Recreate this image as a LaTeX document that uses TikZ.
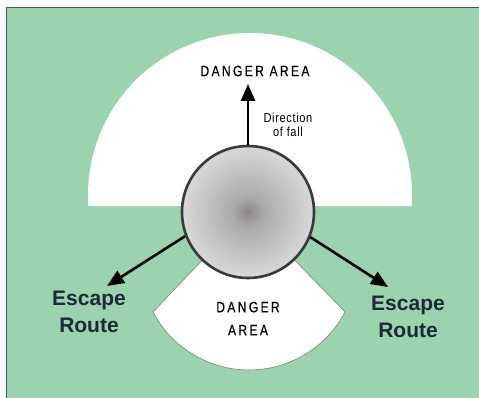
\documentclass[tikz,border=0pt]{standalone}
\usepackage{fontspec}
\setmainfont{Liberation Sans}
\newfontfamily\areafont[LetterSpace=16,FakeStretch=0.8,FakeBold=0.6]{Liberation Sans}
\newfontfamily\notefont[LetterSpace=5,FakeStretch=0.85]{Liberation Sans}
\usepackage{xcolor}
\definecolor{FGgreen}{HTML}{9BD3AE}
\definecolor{FGline}{HTML}{4A5A50}
\definecolor{FGink}{HTML}{1B2A36}
\definecolor{FGedge}{HTML}{3A3A3A}
\definecolor{FGcore}{HTML}{8F8485}
\definecolor{FGmid}{HTML}{ABABAB}
\definecolor{FGrim}{HTML}{EBEBEB}
\usetikzlibrary{arrows.meta}
\pgfdeclareradialshading{trunk}{\pgfpoint{0bp}{0bp}}{color(0bp)=(FGcore); color(6bp)=(FGmid); color(22bp)=(FGmid!40!FGrim); color(35bp)=(FGrim); color(50bp)=(FGrim)}

\begin{document}
\begin{tikzpicture}[x=1pt,y=1pt,
  area/.style={fill=white},
  label/.style={font=\areafont\fontsize{15}{23}\selectfont,align=center,text=black},
  note/.style={font=\notefont\fontsize{13}{14}\selectfont,align=center},
  escape/.style={font=\bfseries\fontsize{21}{27}\selectfont,text=FGink,align=center},
  route/.style={-{Triangle[length=17pt,width=14pt]},line width=2.6pt,draw=black}]
\useasboundingbox (0,0) rectangle (479,398);
\fill[FGgreen] (6.5,0) rectangle (479,390.5);
\draw[FGline,line width=1.2pt] (6.5,0) -- (6.5,390.5) -- (479,390.5);
% danger areas
\fill[area] (250,203) ++(-3.9:162pt) arc[start angle=-3.9,end angle=183.9,radius=162pt] -- cycle;
\filldraw[area,draw=gray,line width=.6pt] (248,186) -- (153,86) arc[start angle=207.75,end angle=332.25,radius=108.5pt] -- cycle;
% tree
\node[circle,draw=FGedge,line width=2.6pt,minimum size=132pt,inner sep=0pt,shading=trunk] (tree) at (248,186) {};
\coordinate (fallTip) at (248,314);
\coordinate (escLeftTip) at (107,112);
\coordinate (escRightTip) at (388,111);
\draw[route] (tree.north) -- (fallTip);
\draw[route] (tree.201) -- (escLeftTip);
\draw[route] (tree.-22) -- (escRightTip);
\node[label] (topArea) at (255,327) {DANGER AREA};
\node[note] (fall) at (288,273) {Direction\\of fall};
\node[label] (lowArea) at (248,79.5) {DANGER\\AREA};
\node[escape] (escLeft) at (89,86.5) {Escape\\Route};
\node[escape] (escRight) at (408,81.5) {Escape\\Route};
\end{tikzpicture}
\end{document}
